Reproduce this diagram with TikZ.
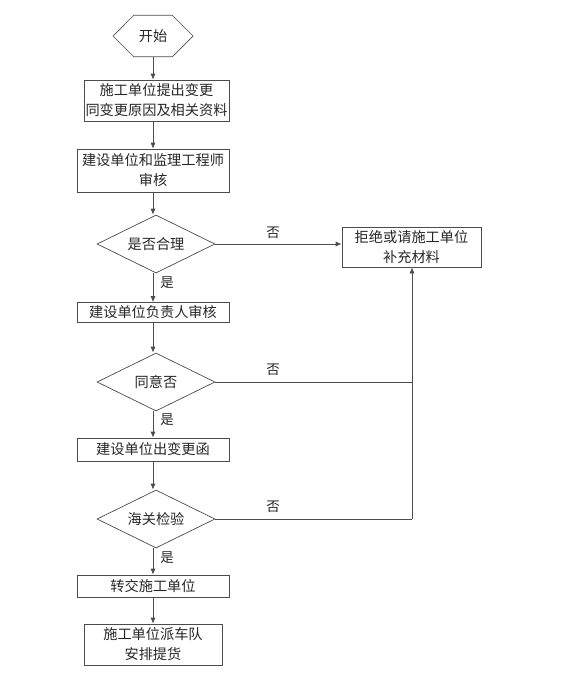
\documentclass[tikz,border=0pt]{standalone}
\usepackage{fontspec}
\setmainfont{Noto Sans CJK SC}
\usetikzlibrary{shapes.geometric,shapes.misc,arrows.meta}
\begin{document}
\begin{tikzpicture}[x=1pt,y=-1pt,
  every node/.style={font=\fontsize{14.2}{20}\selectfont, text=black!85, inner sep=0pt},
  boxn/.style={draw=black!70, line width=0.7pt, rectangle, align=center},
  dia/.style={draw=black!70, line width=0.7pt, diamond, minimum width=118pt, minimum height=58pt, aspect=2},
  conn/.style={draw=black!70, line width=0.7pt},
  arr/.style={conn, -{Latex[length=6pt,width=5pt]}},
  lab/.style={font=\fontsize{13.5}{16}\selectfont}]
\useasboundingbox (0,0) rectangle (562,673);
\node[draw=black!70, line width=0.7pt, chamfered rectangle, chamfered rectangle xsep=15pt, chamfered rectangle ysep=17.5pt, minimum width=80pt, minimum height=35pt] (start) at (153,36) {开始};
\node[boxn, minimum width=145pt, minimum height=41pt] (b1) at (156.5,100.5) {施工单位提出变更\\同变更原因及相关资料};
\node[boxn, minimum width=152pt, minimum height=43pt] (b2) at (153,170.5) {建设单位和监理工程师\\审核};
\node[dia] (d1) at (156,244) {是否合理};
\node[boxn, minimum width=139pt, minimum height=40pt] (rej) at (411.5,247) {拒绝或请施工单位\\补充材料};
\node[boxn, minimum width=152pt, minimum height=20pt] (b3) at (153,312.5) {建设单位负责人审核};
\node[dia] (d2) at (156,382) {同意否};
\node[boxn, minimum width=152pt, minimum height=23pt] (b4) at (153,449.5) {建设单位出变更函};
\node[dia] (d3) at (156,519) {海关检验};
\node[boxn, minimum width=152pt, minimum height=22pt] (b5) at (153,586) {转交施工单位};
\node[boxn, minimum width=138pt, minimum height=41pt] (b6) at (153,644.5) {施工单位派车队\\安排提货};
\coordinate (c2) at (412,382);
\coordinate (c3) at (412,519);
\draw[arr] (start.south) -- (b1.north -| start.south);
\draw[arr] (b1.south -| start.south) -- (b2.north);
\draw[arr] (b2.south) -- (d1.north -| b2.south);
\draw[arr] (d1.south -| b2.south) -- (b3.north);
\draw[arr] (b3.south) -- (d2.north -| b3.south);
\draw[arr] (d2.south -| b3.south) -- (b4.north);
\draw[arr] (b4.south) -- (d3.north -| b4.south);
\draw[arr] (d3.south -| b4.south) -- (b5.north);
\draw[arr] (b5.south) -- (b6.north);
\draw[arr] (d1.east) -- (rej.west |- d1.east);
\draw[conn] (d2.east) -- (c2);
\draw[conn] (d3.east) -- (c3);
\draw[arr] (c3) -- (rej.south -| c3);
\node[lab] (n1) at (273,233) {否};
\node[lab] (n2) at (273,370) {否};
\node[lab] (n3) at (273,507) {否};
\node[lab] (y1) at (167,283) {是};
\node[lab] (y2) at (167,420) {是};
\node[lab] (y3) at (167,558) {是};
\end{tikzpicture}
\end{document}
